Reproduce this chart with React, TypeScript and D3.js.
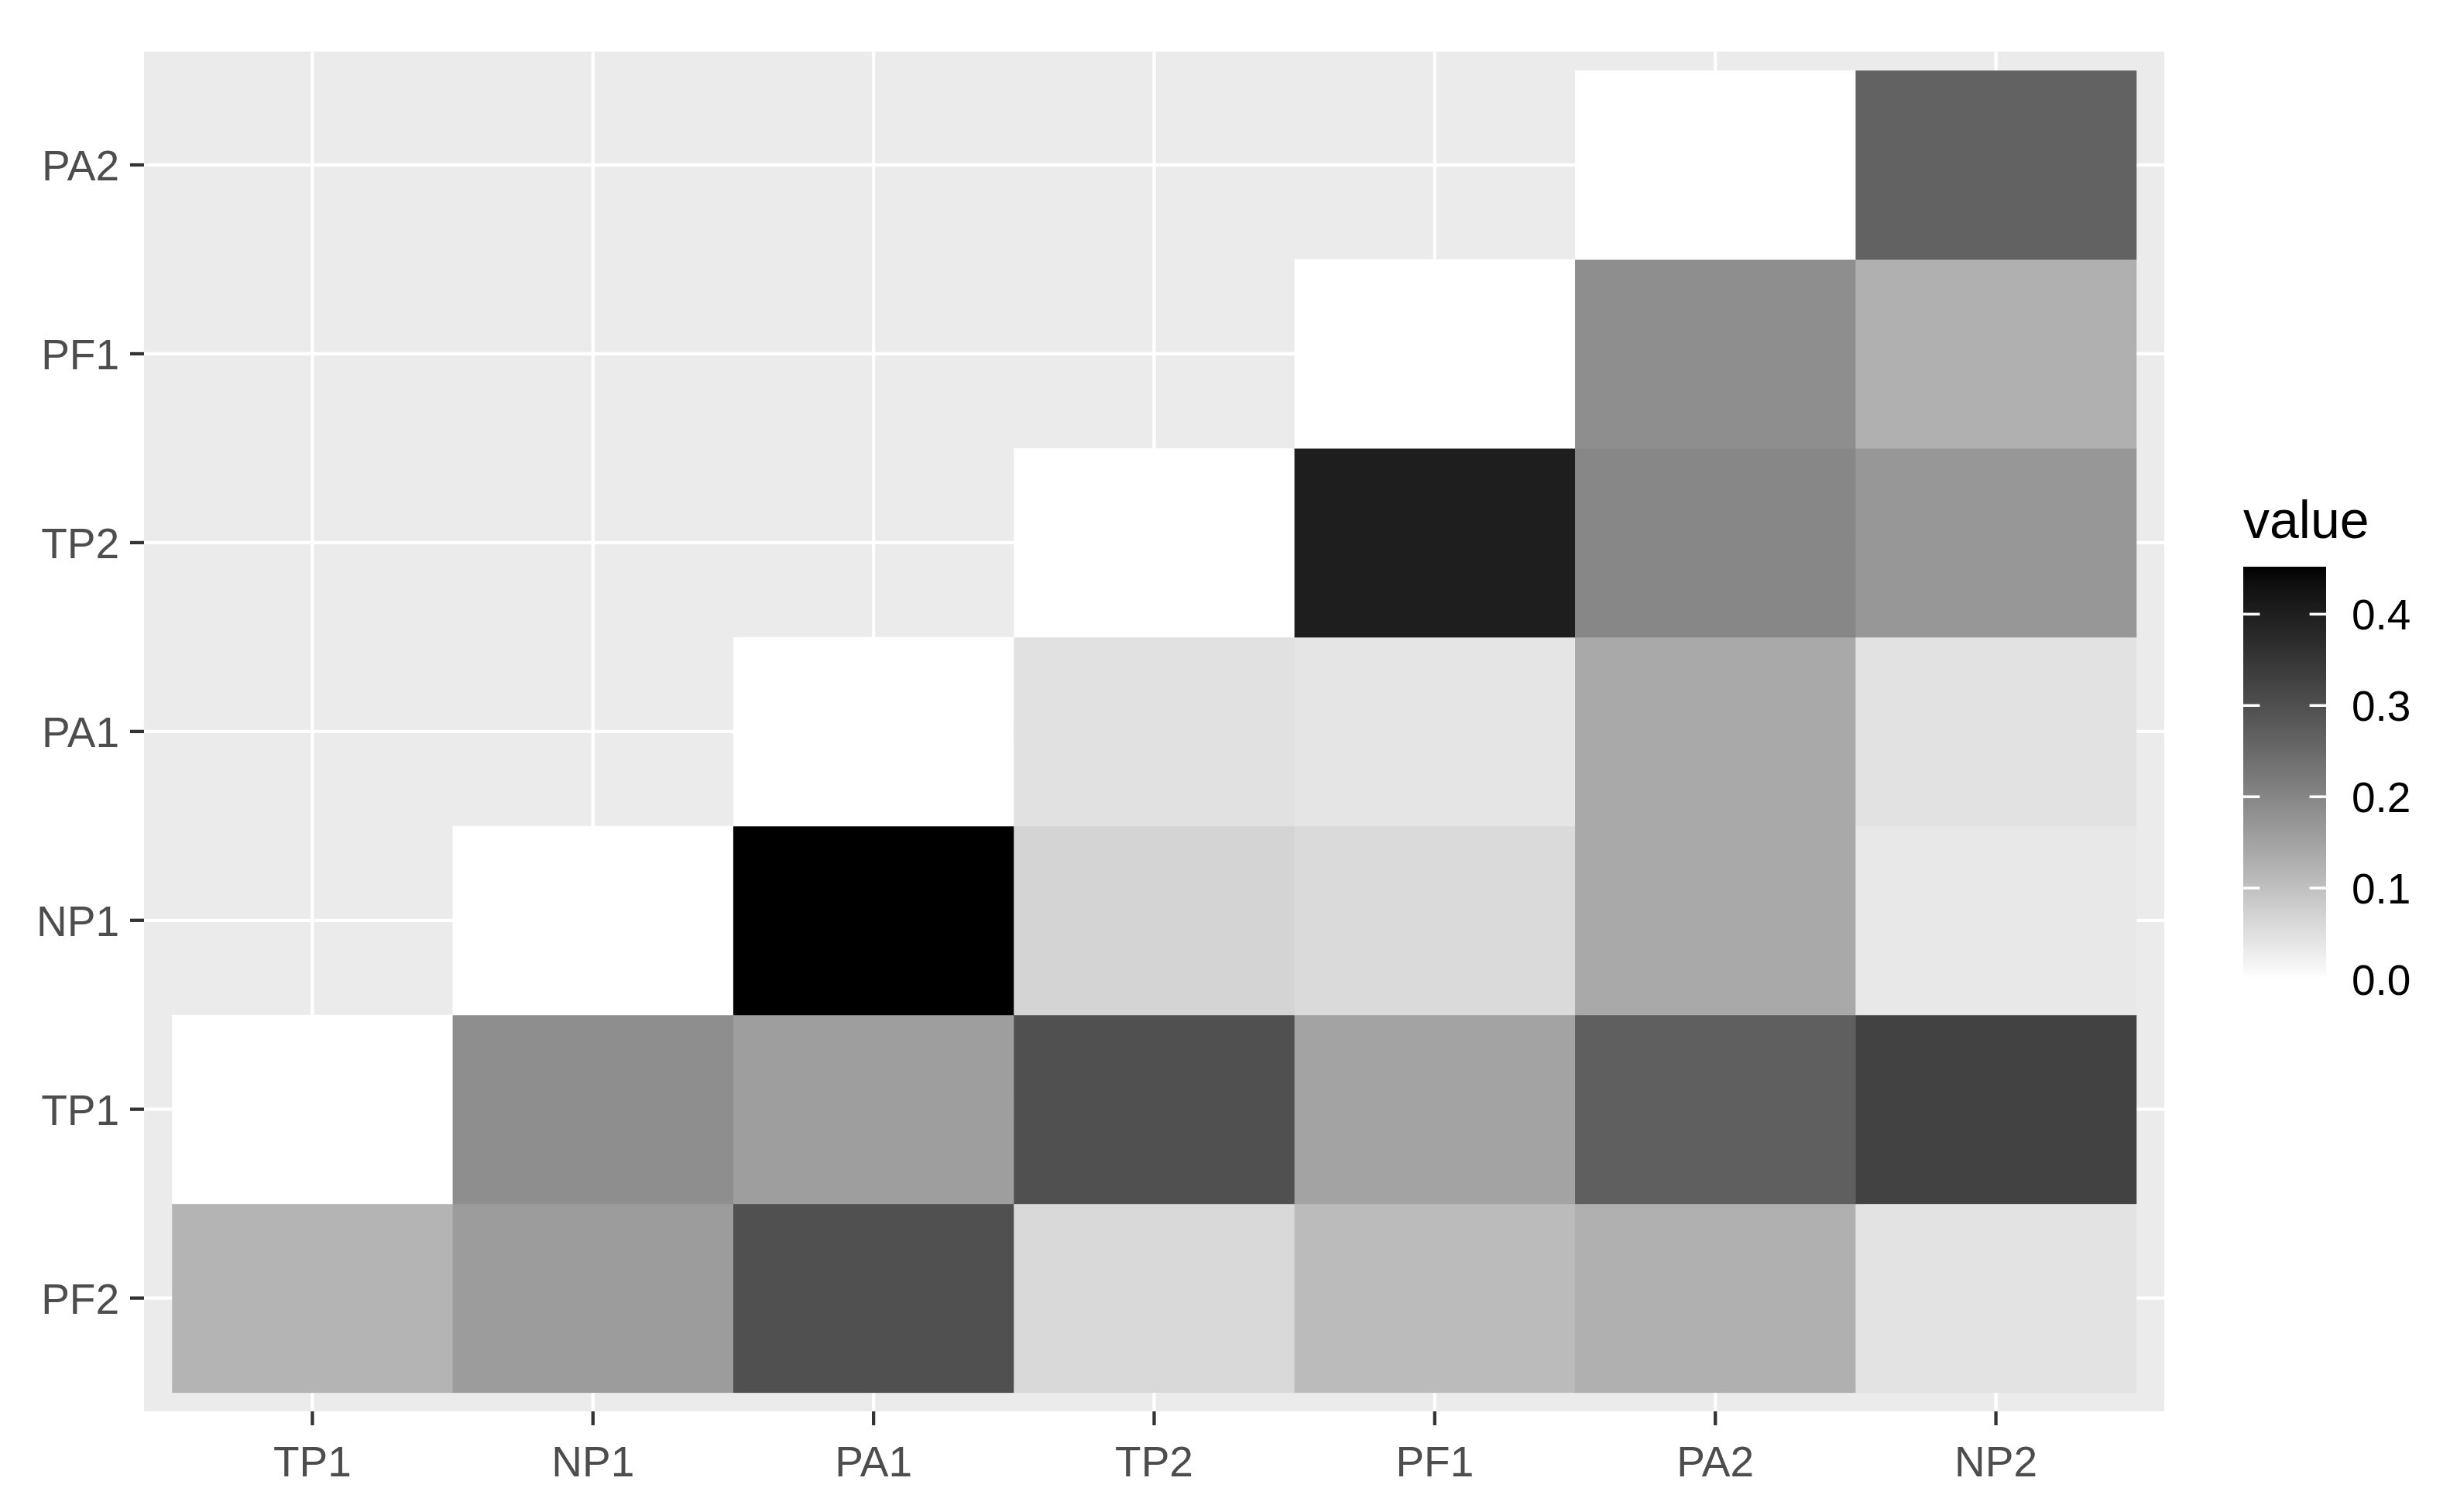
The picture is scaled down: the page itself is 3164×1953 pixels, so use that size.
import React from "react";
import * as d3 from "d3";

const xCats = ["TP1", "NP1", "PA1", "TP2", "PF1", "PA2", "NP2"];
const yCats = ["PF2", "TP1", "NP1", "PA1", "TP2", "PF1", "PA2"]; // bottom to top

const rowPF2 = [0.121, 0.161, 0.298, 0.06, 0.109, 0.127, 0.044];
const rowTP1 = [0, 0.185, 0.158, 0.298, 0.149, 0.27, 0.325];
const rowNP1 = [null, 0, 0.452, 0.068, 0.059, 0.139, 0.036];
const rowPA1 = [null, null, 0, 0.047, 0.041, 0.139, 0.046];
const rowTP2 = [null, null, null, 0, 0.401, 0.198, 0.17];
const rowPF1 = [null, null, null, null, 0, 0.185, 0.127];
const rowPA2 = [null, null, null, null, null, 0, 0.264];

const rows = [rowPF2, rowTP1, rowNP1, rowPA1, rowTP2, rowPF1, rowPA2];
const legendTicks = [0, 0.1, 0.2, 0.3, 0.4];

const W = 3164;
const H = 1953;
const panel = { left: 186, right: 2795, top: 66.7, bottom: 1823 };

export default function App() {
  const cells: { x: string; y: string; v: number }[] = [];
  rows.forEach((r, i) =>
    r.forEach((v, j) => {
      if (v !== null) cells.push({ x: xCats[j], y: yCats[i], v: v as number });
    })
  );
  const maxV = d3.max(cells, (d) => d.v) as number;
  const minV = d3.min(cells, (d) => d.v) as number;

  const pw = panel.right - panel.left;
  const ph = panel.bottom - panel.top;
  const ux = pw / 7.2;
  const uy = ph / 7.2;

  const x = d3
    .scaleBand<string>()
    .domain(xCats)
    .range([panel.left + 0.1 * ux, panel.right - 0.1 * ux])
    .padding(0);
  const y = d3
    .scaleBand<string>()
    .domain(yCats)
    .range([panel.bottom - 0.1 * uy, panel.top + 0.1 * uy])
    .padding(0);

  const color = d3
    .scaleLinear<string>()
    .domain([minV, maxV])
    .range(["white", "black"])
    .interpolate(d3.interpolateLab);

  // legend
  const barLeft = 2897;
  const barW = 107;
  const barTop = 732;
  const barBottom = 1265;
  const ly = d3.scaleLinear().domain([minV, maxV]).range([barBottom, barTop]);
  const stops = d3.range(0, 31).map((i) => i / 30);

  const fontFam = "'Liberation Sans', Arial, sans-serif";

  return (
    <svg
      width={W}
      height={H}
      style={{ position: "absolute", left: 0, top: 0, background: "white" }}
    >
      <defs>
        <linearGradient id="lg" x1="0" y1="1" x2="0" y2="0">
          {stops.map((t) => (
            <stop
              key={t}
              offset={t}
              stopColor={color(minV + t * (maxV - minV))}
            />
          ))}
        </linearGradient>
      </defs>
      <rect x={0} y={0} width={W} height={H} fill="white" />
      <rect
        x={panel.left}
        y={panel.top}
        width={pw}
        height={ph}
        fill="#EBEBEB"
      />
      {xCats.map((c) => (
        <line
          key={"gx" + c}
          x1={(x(c) as number) + x.bandwidth() / 2}
          x2={(x(c) as number) + x.bandwidth() / 2}
          y1={panel.top}
          y2={panel.bottom}
          stroke="white"
          strokeWidth={4.3}
        />
      ))}
      {yCats.map((c) => (
        <line
          key={"gy" + c}
          y1={(y(c) as number) + y.bandwidth() / 2}
          y2={(y(c) as number) + y.bandwidth() / 2}
          x1={panel.left}
          x2={panel.right}
          stroke="white"
          strokeWidth={4.3}
        />
      ))}
      {cells.map((d) => (
        <rect
          key={d.x + d.y}
          x={x(d.x)}
          y={y(d.y)}
          width={x.bandwidth() + 0.5}
          height={y.bandwidth() + 0.5}
          fill={color(d.v)}
        />
      ))}
      {/* axis ticks and labels */}
      {xCats.map((c) => {
        const cx = (x(c) as number) + x.bandwidth() / 2;
        return (
          <g key={"ax" + c}>
            <line
              x1={cx}
              x2={cx}
              y1={panel.bottom}
              y2={panel.bottom + 18}
              stroke="#333333"
              strokeWidth={4.3}
            />
            <text
              x={cx}
              y={1907}
              textAnchor="middle"
              fontFamily={fontFam}
              fontSize={55}
              fill="#4D4D4D"
            >
              {c}
            </text>
          </g>
        );
      })}
      {yCats.map((c) => {
        const cy = (y(c) as number) + y.bandwidth() / 2;
        return (
          <g key={"ay" + c}>
            <line
              x1={panel.left - 18}
              x2={panel.left}
              y1={cy}
              y2={cy}
              stroke="#333333"
              strokeWidth={4.3}
            />
            <text
              x={154}
              y={cy + 20}
              textAnchor="end"
              fontFamily={fontFam}
              fontSize={55}
              fill="#4D4D4D"
            >
              {c}
            </text>
          </g>
        );
      })}
      {/* legend */}
      <text
        x={barLeft}
        y={695}
        fontFamily={fontFam}
        fontSize={68}
        fill="black"
      >
        value
      </text>
      <rect
        x={barLeft}
        y={barTop}
        width={barW}
        height={barBottom - barTop}
        fill="url(#lg)"
      />
      {legendTicks.map((t) => (
        <g key={"lt" + t}>
          <line
            x1={barLeft}
            x2={barLeft + barW / 5}
            y1={ly(t)}
            y2={ly(t)}
            stroke="white"
            strokeWidth={3.5}
          />
          <line
            x1={barLeft + barW - barW / 5}
            x2={barLeft + barW}
            y1={ly(t)}
            y2={ly(t)}
            stroke="white"
            strokeWidth={3.5}
          />
          <text
            x={3037}
            y={ly(t) + 20}
            fontFamily={fontFam}
            fontSize={55}
            fill="black"
          >
            {t.toFixed(1)}
          </text>
        </g>
      ))}
    </svg>
  );
}
